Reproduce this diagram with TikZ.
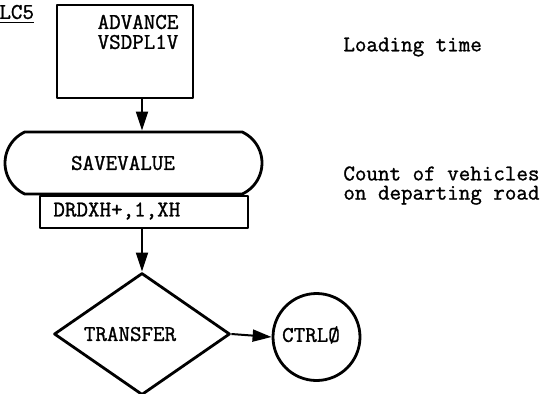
\documentclass[tikz,border=0pt]{standalone}
\usepackage{fontspec}
\setmonofont{Latin Modern Mono}[FakeBold=1.2]
\usetikzlibrary{shapes.geometric,shapes.misc,arrows.meta}
\tikzset{
  blk/.style={draw, line width=1.4pt, inner sep=0pt},
  txt/.style={inner sep=0pt},
  flow/.style={->, line width=1pt}
}
\begin{document}
\begin{tikzpicture}[x=0.5pt,y=-0.5pt,line join=round,>={Triangle[length=9.5pt,width=6pt]},font=\ttfamily\fontsize{11.2}{9.6}\selectfont]
\useasboundingbox (0,0) rectangle (558,393);
\node[txt, anchor=west] (lab) at (-1,14) {\underline{LC5}};
% advance block
\node[blk, minimum width=68pt, minimum height=46.5pt] (adv) at (125,51.5) {};
\node[txt] (advtxt) at (138,22) {ADVANCE};
\node[txt] (advtxt2) at (138,42) {VSDPL1V};
\coordinate (spine) at (142,0);
% savevalue block
\node[blk, rounded rectangle, rounded rectangle arc length=130, minimum width=128.5pt, minimum height=31pt] (sav) at (133.5,163) {};
\node[txt] (savtxt) at (123,163) {SAVEVALUE};
\node[blk, minimum width=104pt, minimum height=16pt, anchor=north] (ops) at (144,194.5) {};
\node[txt, anchor=west] (opstxt) at (53,211) {DRDXH+,1,XH};
% transfer
\node[blk, diamond, minimum width=88pt, minimum height=61pt] (trf) at (142,334) {};
\node[txt] (trftxt) at (130,334) {TRANSFER};
\node[blk, circle, minimum size=43.5pt] (ctrl) at (316.5,337) {};
\node[txt] (ctrltxt) at (311,335) {CTRLØ};
% comments
\node[txt, anchor=west] (c1) at (343,47) {Loading time};
\node[txt, anchor=north west, align=left] (c2) at (343,166) {Count of vehicles\\on departing road};
% connectors
\draw[flow] (adv.south -| spine) -- (sav.north -| spine);
\draw[flow] (ops.south -| spine) -- (trf.north);
\draw[flow] (trf.east) -- (ctrl.west);
\end{tikzpicture}
\end{document}
